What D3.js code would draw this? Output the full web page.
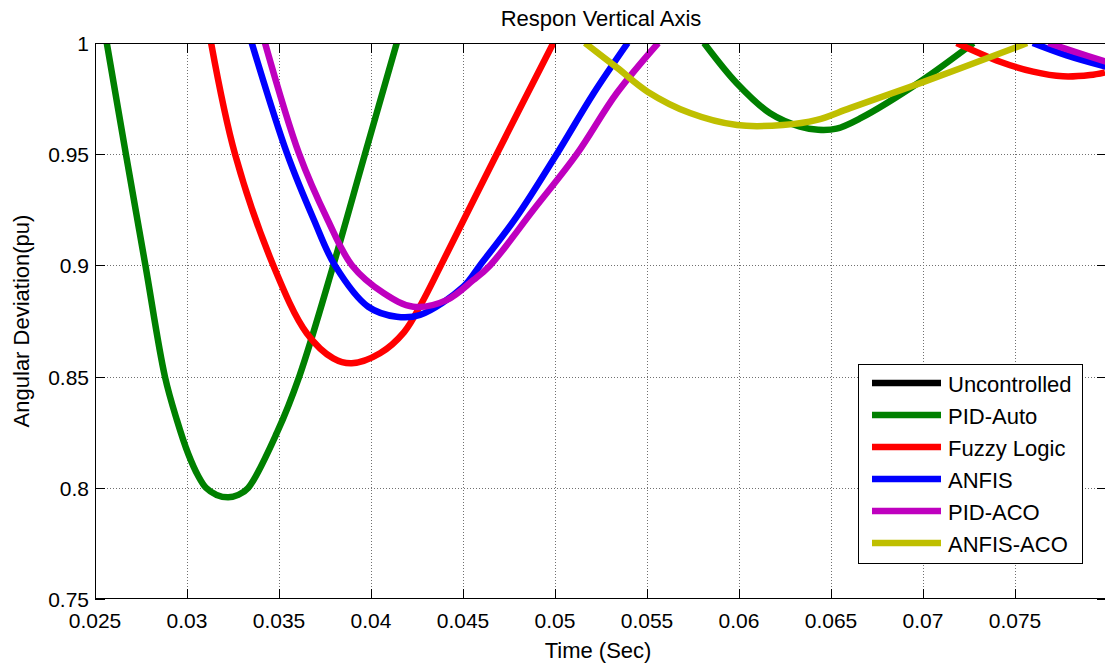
<!DOCTYPE html>
<html>
<head>
  <meta charset="utf-8">
  <title>Respon Vertical Axis</title>
  <script src="https://d3js.org/d3.v7.min.js"></script>
  <style>
    body { margin: 0; background: #fff; }
    svg { display: block; font-family: "Liberation Sans", Arial, sans-serif; }
  </style>
</head>
<body>
<script>
  // tick labels
  var xTicks = [0.025, 0.03, 0.035, 0.04, 0.045, 0.05, 0.055, 0.06, 0.065, 0.07, 0.075];
  var yTicks = [0.75, 0.8, 0.85, 0.9, 0.95, 1];
  var xTickLabels = ["0.025", "0.03", "0.035", "0.04", "0.045", "0.05", "0.055", "0.06", "0.065", "0.07", "0.075"];
  var yTickLabels = ["0.75", "0.8", "0.85", "0.9", "0.95", "1"];

  var seriesNames = ["Uncontrolled", "PID-Auto", "Fuzzy Logic", "ANFIS", "PID-ACO", "ANFIS-ACO"];
  var seriesColors = ["#000000", "#008000", "#ff0000", "#0000ff", "#bf00bf", "#bfbf00"];

  // [time, deviation]; null = the curve is above the window
  var uncontrolled = [];
  var pidAuto = [
    [0.02564, 1.0], [0.02668, 0.95], [0.02774, 0.90], [0.02880, 0.85], [0.02945, 0.8305],
    [0.03007, 0.8152], [0.03061, 0.8053], [0.03103, 0.80], [0.03161, 0.7968], [0.03224, 0.7957],
    [0.03279, 0.7968], [0.03333, 0.80], [0.03490, 0.825], [0.03610, 0.85], [0.03795, 0.90],
    [0.03967, 0.95], [0.04140, 1.0],
    null,
    [0.05810, 1.0], [0.05988, 0.9819], [0.06169, 0.9684], [0.06332, 0.9624], [0.06430, 0.9610],
    [0.06530, 0.9615], [0.06658, 0.9661], [0.06984, 0.9826], [0.07274, 1.0]
  ];
  var fuzzy = [
    [0.03131, 1.0], [0.03261, 0.95], [0.03469, 0.90], [0.03651, 0.8695], [0.03795, 0.8582],
    [0.03895, 0.8560], [0.04049, 0.8605], [0.04180, 0.8700], [0.04275, 0.8830], [0.04380, 0.90],
    [0.04683, 0.95], [0.04991, 1.0],
    null,
    [0.07183, 1.0], [0.07419, 0.9916], [0.07598, 0.9871], [0.07761, 0.9850], [0.07908, 0.9856],
    [0.07989, 0.9868]
  ];
  var anfis = [
    [0.03352, 1.0], [0.03545, 0.95], [0.03690, 0.9204], [0.03804, 0.90], [0.03985, 0.8814],
    [0.04140, 0.8769], [0.04266, 0.8777], [0.04502, 0.8904], [0.04592, 0.90], [0.04792, 0.9219],
    [0.05009, 0.95], [0.05210, 0.9774], [0.05395, 1.0],
    null,
    [0.07597, 1.0], [0.07781, 0.9944], [0.07995, 0.9893]
  ];
  var pidAco = [
    [0.03424, 1.0], [0.03610, 0.95], [0.03765, 0.9204], [0.03897, 0.90], [0.04070, 0.8875],
    [0.04230, 0.8814], [0.04411, 0.8844], [0.04556, 0.8934], [0.04647, 0.90], [0.04882, 0.9249],
    [0.05118, 0.95], [0.05335, 0.9774], [0.05561, 1.0],
    null,
    [0.07681, 1.0], [0.07826, 0.9960], [0.07995, 0.9916]
  ];
  var anfisAco = [
    [0.05163, 1.0], [0.05337, 0.9889], [0.05505, 0.9780], [0.05734, 0.9685], [0.05989, 0.9631],
    [0.06239, 0.9631], [0.06424, 0.9654], [0.06603, 0.9707], [0.07000, 0.9824], [0.07511, 0.9982],
    [0.07565, 1.0]
  ];
  var seriesData = [uncontrolled, pidAuto, fuzzy, anfis, pidAco, anfisAco];

  var W = 1105, H = 663;
  var plotL = 95, plotT = 43, plotR = 1107, plotB = 599;

  var svg = d3.select("body").append("svg")
    .attr("width", W)
    .attr("height", H);

  var x = d3.scaleLinear().domain([0.025, 0.08]).range([plotL, plotR]);
  var y = d3.scaleLinear().domain([0.75, 1]).range([plotB, plotT]);

  // grid
  svg.append("g").selectAll("line").data(xTicks.slice(1))
    .join("line")
      .attr("x1", d => Math.round(x(d)) + 0.5).attr("x2", d => Math.round(x(d)) + 0.5)
      .attr("y1", plotT).attr("y2", plotB)
      .attr("stroke", "#707070").attr("stroke-width", 1)
      .attr("stroke-dasharray", "1,2");
  svg.append("g").selectAll("line").data(yTicks.slice(1, -1))
    .join("line")
      .attr("x1", plotL).attr("x2", plotR)
      .attr("y1", d => Math.round(y(d)) + 0.5).attr("y2", d => Math.round(y(d)) + 0.5)
      .attr("stroke", "#707070").attr("stroke-width", 1)
      .attr("stroke-dasharray", "1,2");

  // curves
  svg.append("clipPath").attr("id", "plotclip")
    .append("rect")
      .attr("x", plotL).attr("y", plotT)
      .attr("width", plotR - plotL).attr("height", plotB - plotT);

  var line = d3.line()
    .defined(d => d !== null)
    .x(d => x(d[0]))
    .y(d => y(d[1]))
    .curve(d3.curveCatmullRom.alpha(0.5));

  svg.append("g").attr("clip-path", "url(#plotclip)")
    .selectAll("path").data(seriesData)
    .join("path")
      .attr("d", d => d.length ? line(d) : null)
      .attr("fill", "none")
      .attr("stroke", (d, i) => seriesColors[i])
      .attr("stroke-width", 6.5)
      .attr("stroke-linejoin", "round");

  // axes box with inward ticks
  var axis = svg.append("g").attr("stroke", "#000").attr("stroke-width", 1);
  axis.append("rect")
    .attr("x", plotL + 0.5).attr("y", plotT + 0.5)
    .attr("width", plotR - plotL - 1).attr("height", plotB - plotT - 1)
    .attr("fill", "none");
  xTicks.forEach(function (t) {
    var px = Math.round(x(t)) + 0.5;
    axis.append("line").attr("x1", px).attr("x2", px).attr("y1", plotB).attr("y2", plotB - 10);
    axis.append("line").attr("x1", px).attr("x2", px).attr("y1", plotT).attr("y2", plotT + 10);
  });
  yTicks.forEach(function (t) {
    var py = Math.round(y(t)) + 0.5;
    axis.append("line").attr("x1", plotL).attr("x2", plotL + 10).attr("y1", py).attr("y2", py);
    axis.append("line").attr("x1", plotR).attr("x2", plotR - 10).attr("y1", py).attr("y2", py);
  });

  // tick labels
  svg.append("g").selectAll("text").data(xTicks)
    .join("text")
      .attr("x", d => x(d))
      .attr("y", plotB + 29)
      .attr("text-anchor", "middle")
      .attr("font-size", 21)
      .text((d, i) => xTickLabels[i]);
  svg.append("g").selectAll("text").data(yTicks)
    .join("text")
      .attr("x", plotL - 6)
      .attr("y", d => y(d) + 8)
      .attr("text-anchor", "end")
      .attr("font-size", 21)
      .text((d, i) => yTickLabels[i]);

  // titles
  svg.append("text")
    .attr("x", (plotL + plotR) / 2).attr("y", 26)
    .attr("text-anchor", "middle").attr("font-size", 22)
    .text("Respon Vertical Axis");
  svg.append("text")
    .attr("x", (plotL + plotR) / 2 - 3).attr("y", 658)
    .attr("text-anchor", "middle").attr("font-size", 22)
    .text("Time (Sec)");
  svg.append("text")
    .attr("transform", "translate(29," + (plotT + plotB) / 2 + ") rotate(-90)")
    .attr("text-anchor", "middle").attr("font-size", 22)
    .text("Angular Deviation(pu)");

  // legend
  var legend = svg.append("g").attr("transform", "translate(858,364)");
  legend.append("rect")
    .attr("x", 0.5).attr("y", 0.5).attr("width", 224).attr("height", 199)
    .attr("fill", "#fff").attr("stroke", "#000").attr("stroke-width", 1);
  var rows = legend.selectAll("g.row").data(seriesNames)
    .join("g")
      .attr("class", "row")
      .attr("transform", (d, i) => "translate(0," + (19 + i * 32) + ")");
  rows.append("line")
    .attr("x1", 14).attr("x2", 83)
    .attr("stroke", (d, i) => seriesColors[i])
    .attr("stroke-width", 6.5);
  rows.append("text")
    .attr("x", 90).attr("y", 9)
    .attr("font-size", 22)
    .text(d => d);
</script>
</body>
</html>
